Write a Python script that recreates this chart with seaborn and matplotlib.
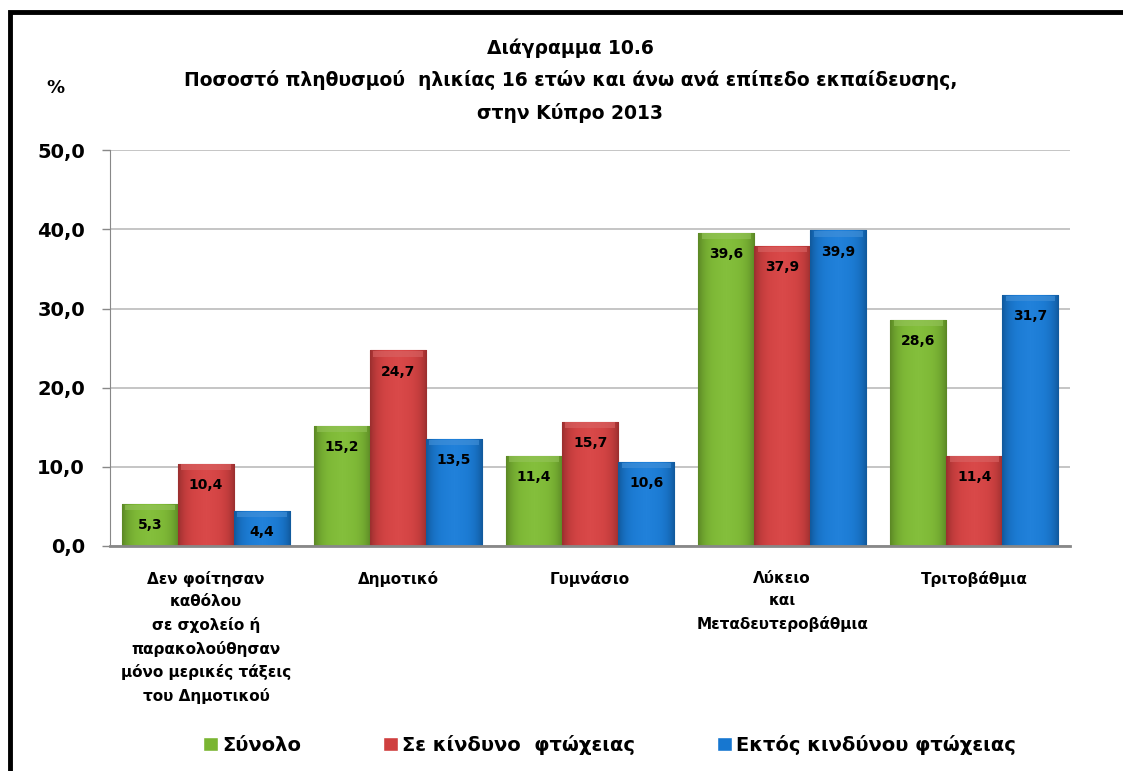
import numpy as np
import pandas as pd
import matplotlib.pyplot as plt
import matplotlib.colors as mcolors
from matplotlib.patches import Rectangle
import seaborn as sns

sns.set_style('white')
plt.rcParams['font.family'] = ['DejaVu Sans']
plt.rcParams['font.weight'] = 'bold'
plt.rcParams['text.color'] = 'black'
plt.rcParams['xtick.color'] = 'black'
plt.rcParams['ytick.color'] = 'black'

categories = [
    'Δεν φοίτησαν\nκαθόλου\nσε σχολείο ή\nπαρακολούθησαν\nμόνο μερικές τάξεις\nτου Δημοτικού',
    'Δημοτικό',
    'Γυμνάσιο',
    'Λύκειο\nκαι\nΜεταδευτεροβάθμια',
    'Τριτοβάθμια',
]
series = ['Σύνολο', 'Σε κίνδυνο  φτώχειας', 'Εκτός κινδύνου φτώχειας']
total = [5.3, 15.2, 11.4, 39.6, 28.6]
at_risk = [10.4, 24.7, 15.7, 37.9, 11.4]
not_at_risk = [4.4, 13.5, 10.6, 39.9, 31.7]
colors = ['#7ab532', '#cf3f3f', '#1777d0']

df = pd.DataFrame({
    'cat': categories * 3,
    'series': [series[0]] * 5 + [series[1]] * 5 + [series[2]] * 5,
    'value': total + at_risk + not_at_risk,
})

fig = plt.figure(figsize=(11.23, 7.71), dpi=100)
ax = fig.add_axes([0.098, 0.292, 0.855, 0.513])

sns.barplot(data=df, x='cat', y='value', hue='series', palette=colors,
            width=0.875, ax=ax, legend=True, saturation=1)

# bevel-like shading on each bar
for patch in ax.patches:
    if patch.get_height() <= 0:
        continue
    c = np.array(mcolors.to_rgb(patch.get_facecolor()))
    x0, w, h = patch.get_x(), patch.get_width(), patch.get_height()
    t = np.linspace(0, 1, 60)
    shade = 1 - 0.25 * (np.abs(t - 0.5) * 2) ** 4
    grad = np.clip(c[None, :] * shade[:, None] + 0.04 * (1 - np.abs(t - 0.5) * 2)[:, None], 0, 1)
    img = ax.imshow(grad[None, :, :], extent=[x0, x0 + w, 0, h], aspect='auto',
                    zorder=patch.get_zorder() + 0.1, interpolation='bicubic')
    img.set_clip_path(patch)
    top = np.clip(c * 0.8 + 0.2, 0, 1)
    ax.add_patch(Rectangle((x0 + w * 0.06, h - 0.8), w * 0.88, 0.7, color=top, alpha=0.6,
                           zorder=patch.get_zorder() + 0.2, lw=0))
    patch.set_edgecolor(c * 0.8)
    patch.set_linewidth(0.8)

for cont in ax.containers:
    for bar in cont:
        h = bar.get_height()
        ax.text(bar.get_x() + bar.get_width() / 2, h - 2.7, f'{h:.1f}'.replace('.', ','),
                ha='center', va='center', fontsize=10, fontweight='bold', color='black', zorder=5)

ax.set_xlim(-0.5, 4.5)
ax.set_ylim(0, 50)
ax.set_yticks(np.arange(0, 51, 10))
ax.set_yticklabels([f'{v:.1f}'.replace('.', ',') for v in np.arange(0, 51, 10)],
                   fontsize=14, fontweight='bold')
ax.yaxis.grid(True, color='#c0c0c0', lw=1.3)
ax.set_axisbelow(True)
ax.tick_params(axis='y', length=6, width=1, color='#888888', left=True, pad=12)
ax.tick_params(axis='x', length=0, pad=18)
for lab in ax.get_xticklabels():
    lab.set_fontsize(11)
    lab.set_fontweight('bold')
    lab.set_va('top')
    lab.set_linespacing(1.6)
ax.set_xlabel('')
ax.set_ylabel('')
for s in ['top', 'right']:
    ax.spines[s].set_visible(False)
ax.spines['left'].set_color('#888888')
ax.spines['bottom'].set_color('#888888')
ax.spines['bottom'].set_linewidth(2)

leg = ax.legend(loc='center', bbox_to_anchor=(0.52, -0.503), ncol=3, frameon=False,
                fontsize=14, handlelength=0.8, handleheight=0.8, columnspacing=4.2,
                handletextpad=0.2)
for t in leg.get_texts():
    t.set_fontweight('bold')

fig.text(0.508, 0.938, 'Διάγραμμα 10.6', ha='center', va='center', fontsize=13.5, fontweight='bold')
fig.text(0.508, 0.896, 'Ποσοστό πληθυσμού  ηλικίας 16 ετών και άνω ανά επίπεδο εκπαίδευσης,',
         ha='center', va='center', fontsize=13.5, fontweight='bold')
fig.text(0.508, 0.853, 'στην Κύπρο 2013', ha='center', va='center', fontsize=13.5, fontweight='bold')
fig.text(0.049, 0.886, '%', ha='center', va='center', fontsize=13, fontweight='bold')

fig.patches.append(Rectangle((10 / 1123, -0.05), 1.2, 1 - 12 / 771 + 0.05, transform=fig.transFigure,
                             fill=False, edgecolor='black', lw=3.5, figure=fig))

fig.savefig('out.png', dpi=100)
